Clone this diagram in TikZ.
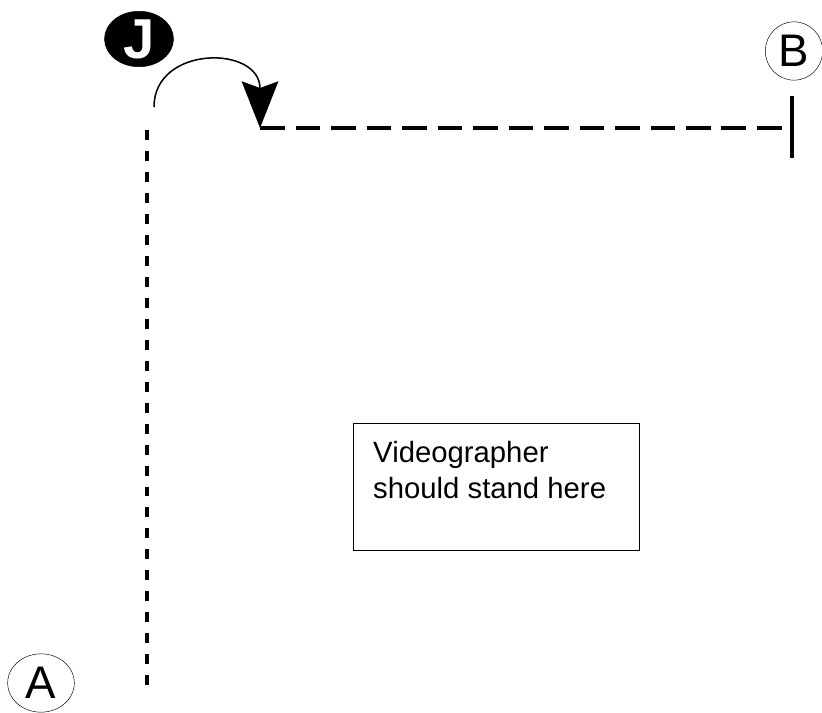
\documentclass[tikz,border=0pt]{standalone}
\usepackage{fontspec}
\setmainfont{Liberation Sans}
\usetikzlibrary{shapes.geometric, arrows.meta, positioning}

\begin{document}
\begin{tikzpicture}[
    x=0.03cm, y=-0.03cm,
    tag/.style={ellipse, draw, thin, minimum width=2cm, minimum height=1.75cm, inner sep=0pt, font=\fontsize{39}{40}\selectfont},
    spotbox/.style={rectangle, draw, line width=1.2pt, minimum width=8.58cm, minimum height=3.81cm, anchor=north west, inner sep=0pt},
    walk/.style={line width=3.6pt, dash pattern=on 8.5pt off 9.4pt},
    track/.style={line width=3.6pt, dash pattern=on 21.3pt off 9pt},
    turn/.style={-{Stealth[length=1.4cm, width=1.1cm, inset=0.2cm]}, line width=1.3pt}
]
\useasboundingbox (0,0) rectangle (822,713);

% Nodes
\node[tag, fill=black, minimum width=2.07cm, minimum height=1.6cm, text=white, font=\fontsize{48}{50}\bfseries\selectfont] (jtag) at (139,39) {J};
\node[tag, minimum width=1.72cm] (btag) at (794,51) {B};
\node[tag] (atag) at (41,683) {A};
\node[spotbox] (spot) at (353,423) {};
\node[anchor=base west, align=left, inner sep=0pt, font=\fontsize{25}{30}\selectfont] (spottext) at (373,498) {Videographer\\should stand here};

% Path ends
\coordinate (walktop) at (147,130);
\coordinate (walkend) at (147,690);
\coordinate (trackstart) at (260,128);
\coordinate (trackend) at (792,128);
\coordinate (turnstart) at (154,107);
\coordinate (stoptop) at (792,96);
\coordinate (stopbot) at (792,158);

% Lines
\draw[walk] (walktop) -- (walkend);
\draw[track] (trackstart) -- (trackend);
\draw[line width=3.2pt] (stoptop) -- (stopbot);
\draw[turn] (turnstart) .. controls (154,45) and (260,45) .. (trackstart);

\end{tikzpicture}
\end{document}
